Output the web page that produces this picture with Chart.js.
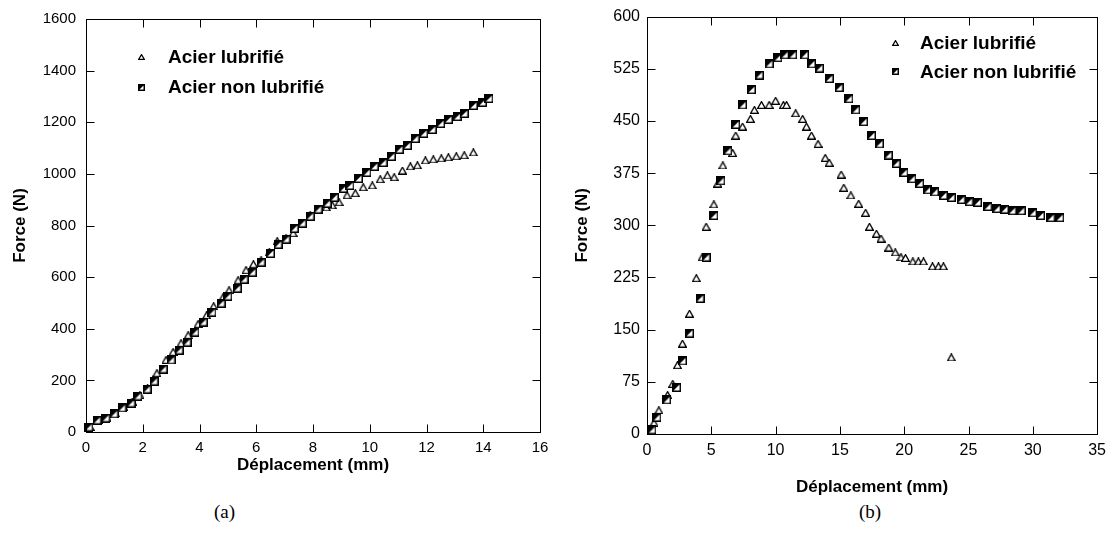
<!DOCTYPE html>
<html>
<head>
<meta charset="utf-8">
<title>Force - Déplacement</title>
<script src="https://cdn.jsdelivr.net/npm/chart.js@4.4.0/dist/chart.umd.min.js"></script>
<style>
  html, body { margin: 0; padding: 0; background: #fff; }
  body { width: 1113px; height: 534px; position: relative; overflow: hidden; }
  .box { position: absolute; top: 0; }
  .cap { position: absolute; top: 501px; font-family: "Liberation Serif", "Times New Roman", serif; font-size: 19px; color: #000; }
</style>
</head>
<body>
<div class="box" style="left:0;width:556px;height:480px"><canvas id="chartA" width="556" height="480"></canvas></div>
<div class="box" style="left:556px;width:557px;height:500px"><canvas id="chartB" width="557" height="500"></canvas></div>
<div class="cap" style="left:214px">(a)</div>
<div class="cap" style="left:859px">(b)</div>

<script>
// (a) déplacement (mm) / force (N)
const lubX_a = [0.15, 0.45, 0.74, 1.04, 1.33, 1.63, 1.9, 2.17, 2.5, 2.82, 3.07, 3.35, 3.6, 3.95, 4.25, 4.5, 4.83, 5.04, 5.36, 5.64, 5.9, 6.17, 6.46, 6.74, 7.05, 7.3, 7.58, 7.9, 8.15, 8.47, 8.68, 8.92, 9.2, 9.49, 9.77, 10.09, 10.37, 10.62, 10.86, 11.15, 11.43, 11.68, 11.96, 12.24, 12.52, 12.77, 13.05, 13.33, 13.65];
const lubF_a = [19, 46, 56, 72, 97, 118, 143, 170, 228, 279, 310, 344, 375, 418, 452, 487, 522, 549, 588, 627, 650, 665, 696, 739, 750, 770, 805, 839, 859, 870, 878, 890, 917, 925, 948, 955, 979, 994, 987, 1013, 1029, 1033, 1052, 1056, 1060, 1064, 1068, 1072, 1083];
const nonX_a = [0.1, 0.39, 0.7, 0.99, 1.27, 1.59, 1.83, 2.15, 2.4, 2.72, 3.0, 3.28, 3.56, 3.84, 4.13, 4.44, 4.76, 5.0, 5.33, 5.57, 5.86, 6.17, 6.5, 6.77, 7.05, 7.34, 7.62, 7.9, 8.18, 8.5, 8.75, 9.07, 9.3, 9.6, 9.9, 10.16, 10.47, 10.76, 11.04, 11.32, 11.6, 11.9, 12.2, 12.5, 12.77, 13.08, 13.33, 13.65, 13.97, 14.2];
const nonF_a = [19, 46, 54, 70, 93, 112, 139, 166, 197, 244, 279, 317, 348, 387, 426, 464, 499, 526, 557, 592, 619, 658, 692, 727, 747, 789, 809, 836, 863, 886, 909, 944, 955, 982, 1006, 1029, 1044, 1068, 1095, 1110, 1137, 1157, 1172, 1195, 1211, 1222, 1234, 1265, 1277, 1292];

// (b)
const lubX_b = [0.38, 0.54, 0.92, 1.6, 2.0, 2.37, 2.76, 3.3, 3.83, 4.29, 4.6, 5.2, 5.5, 5.9, 6.66, 6.9, 7.43, 8.04, 8.35, 8.9, 9.5, 10.0, 10.6, 10.85, 11.56, 12.1, 12.4, 12.79, 13.3, 13.86, 14.17, 15.1, 15.3, 15.85, 16.46, 17.0, 17.3, 17.84, 18.2, 18.8, 19.3, 19.75, 20.1, 20.67, 21.1, 21.5, 22.2, 22.66, 23.05, 23.66];
const lubF_b = [7, 16, 34, 56, 72, 99, 130, 173, 224, 254, 298, 330, 360, 386, 404, 429, 442, 453, 466, 473, 473, 479, 473, 473, 461, 453, 442, 429, 417, 397, 390, 373, 354, 343, 331, 318, 298, 288, 281, 268, 261, 254, 253, 248, 248, 248, 241, 241, 241, 110];
const nonX_b = [0.38, 0.77, 1.53, 2.3, 2.76, 3.3, 4.13, 4.6, 5.2, 5.74, 6.28, 6.9, 7.43, 8.12, 8.73, 9.5, 10.18, 10.72, 11.33, 12.25, 12.79, 13.4, 14.17, 14.93, 15.7, 16.23, 16.84, 17.46, 18.07, 18.76, 19.37, 19.98, 20.6, 21.2, 21.82, 22.36, 23.05, 23.66, 24.43, 25.04, 25.7, 26.5, 27.2, 27.8, 28.4, 29.1, 30.0, 30.6, 31.4, 32.1];
const nonF_b = [6, 24, 49, 67, 105, 145, 195, 254, 314, 364, 407, 445, 473, 495, 516, 532, 541, 545, 545, 545, 532, 526, 511, 498, 482, 466, 449, 429, 417, 401, 389, 376, 367, 360, 351, 348, 343, 340, 337, 334, 333, 327, 324, 323, 321, 321, 318, 314, 311, 311];

const labelLub = 'Acier lubrifié';
const labelNon = 'Acier non lubrifié';
const xTitle = 'Déplacement (mm)';
const yTitle = 'Force (N)';

Chart.defaults.font.family = '"Liberation Sans", Arial, sans-serif';
Chart.defaults.color = '#000';

// markers
function makeTriangle(w, h, lw) {
  const c = document.createElement('canvas');
  c.width = w; c.height = h;
  const g = c.getContext('2d');
  g.beginPath();
  g.moveTo(w / 2, lw / 2);
  g.lineTo(w - lw / 2, h - lw / 2);
  g.lineTo(lw / 2, h - lw / 2);
  g.closePath();
  g.fillStyle = '#fff';
  g.fill();
  g.strokeStyle = '#000';
  g.lineWidth = lw;
  g.lineJoin = 'miter';
  g.stroke();
  return c;
}

function makeSquare(s) {
  const c = document.createElement('canvas');
  c.width = s; c.height = s;
  const g = c.getContext('2d');
  g.fillStyle = '#fff';
  g.fillRect(0, 0, s, s);
  g.fillStyle = '#000';
  g.beginPath();
  g.moveTo(0, 0); g.lineTo(s, 0); g.lineTo(0, s);
  g.closePath();
  g.fill();
  g.strokeStyle = '#000';
  g.lineWidth = 1.5;
  g.strokeRect(0.75, 0.75, s - 1.5, s - 1.5);
  return c;
}

// frame, inward ticks on the four sides, legend inside the plot
const framePlugin = {
  id: 'frame',
  afterDraw(chart, args, opts) {
    const { ctx, chartArea: a, scales } = chart;
    const L = 8;
    const l = Math.round(a.left) + 0.5, r = Math.round(a.right) + 0.5;
    const t = Math.round(a.top) + 0.5, b = Math.round(a.bottom) + 0.5;
    ctx.save();
    ctx.strokeStyle = '#000';
    ctx.lineWidth = 1;
    ctx.strokeRect(l, t, r - l, b - t);
    ctx.beginPath();
    scales.x.ticks.forEach(tk => {
      const px = Math.round(scales.x.getPixelForValue(tk.value)) + 0.5;
      ctx.moveTo(px, b); ctx.lineTo(px, b - L);
      ctx.moveTo(px, t); ctx.lineTo(px, t + L);
    });
    scales.y.ticks.forEach(tk => {
      const py = Math.round(scales.y.getPixelForValue(tk.value)) + 0.5;
      ctx.moveTo(l, py); ctx.lineTo(l + L, py);
      ctx.moveTo(r, py); ctx.lineTo(r - L, py);
    });
    ctx.stroke();

    ctx.font = 'bold ' + opts.fontSize + 'px "Liberation Sans", Arial, sans-serif';
    ctx.fillStyle = '#000';
    ctx.textBaseline = 'middle';
    opts.items.forEach((it, i) => {
      const my = a.top + opts.y + i * opts.gap;
      const mx = a.left + opts.x;
      ctx.drawImage(it.img, Math.round(mx - it.img.width / 2), Math.round(my - it.img.height / 2));
      ctx.fillText(it.label, a.left + opts.textX, my + 1);
    });
    ctx.restore();
  }
};

const toPoints = (xs, ys) => xs.map((v, i) => ({ x: v, y: ys[i] }));

const forceCharts = {
  chartA: null,
  chartB: null,

  init: function() {
    this.chartA = this.createChart(document.getElementById('chartA'), {
      lub: toPoints(lubX_a, lubF_a), non: toPoints(nonX_a, nonF_a),
      tri: makeTriangle(9, 8, 1.3), sq: makeSquare(9),
      xMax: 16, xStep: 2, yMax: 1600, yStep: 200,
      pad: { top: 19, right: 16, left: 0, bottom: 0 },
      yWidth: 86, xHeight: 48, tickSize: 15,
      yTitlePad: 10, xTitlePad: 4, xTickPad: 7, yTickPad: 10,
      legend: { x: 55, y: 38, gap: 30, textX: 82, fontSize: 19, items: [
        { img: makeTriangle(7, 6, 1.2), label: labelLub },
        { img: makeSquare(7), label: labelNon }
      ] }
    });

    this.chartB = this.createChart(document.getElementById('chartB'), {
      lub: toPoints(lubX_b, lubF_b), non: toPoints(nonX_b, nonF_b),
      tri: makeTriangle(9, 8, 1.3), sq: makeSquare(9),
      xMax: 35, xStep: 5, yMax: 600, yStep: 75,
      pad: { top: 16, right: 11, left: 0, bottom: 0 },
      yWidth: 91, xHeight: 66, tickSize: 16,
      yTitlePad: 16, xTitlePad: 2, xTickPad: 7, yTickPad: 7,
      legend: { x: 248, y: 26, gap: 29, textX: 273, fontSize: 19, items: [
        { img: makeTriangle(7, 6, 1.2), label: labelLub },
        { img: makeSquare(7), label: labelNon }
      ] }
    });
  },

  createChart: function(canvas, c) {
    return new Chart(canvas, {
      type: 'scatter',
      data: {
        datasets: [
          { label: labelLub, data: c.lub, pointStyle: c.tri, pointRadius: 4, order: 1, clip: false },
          { label: labelNon, data: c.non, pointStyle: c.sq, pointRadius: 4, order: 0, clip: false }
        ]
      },
      options: {
        responsive: false,
        animation: false,
        events: [],
        layout: { padding: c.pad },
        plugins: {
          legend: { display: false },
          tooltip: { enabled: false },
          frame: c.legend
        },
        scales: {
          x: {
            type: 'linear', min: 0, max: c.xMax,
            grid: { display: false, drawTicks: false },
            border: { display: false },
            ticks: { stepSize: c.xStep, padding: c.xTickPad, font: { size: c.tickSize }, maxRotation: 0, callback: v => String(v) },
            title: { display: true, text: xTitle, font: { size: 17, weight: 'bold' }, padding: { top: 0, bottom: c.xTitlePad } },
            afterFit: s => { s.height = c.xHeight; }
          },
          y: {
            type: 'linear', min: 0, max: c.yMax,
            grid: { display: false, drawTicks: false },
            border: { display: false },
            ticks: { stepSize: c.yStep, padding: c.yTickPad, font: { size: c.tickSize }, callback: v => String(v) },
            title: { display: true, text: yTitle, font: { size: 17, weight: 'bold' }, padding: { top: c.yTitlePad, bottom: 0 } },
            afterFit: s => { s.width = c.yWidth; }
          }
        }
      },
      plugins: [framePlugin]
    });
  }
};

forceCharts.init();
</script>
</body>
</html>
